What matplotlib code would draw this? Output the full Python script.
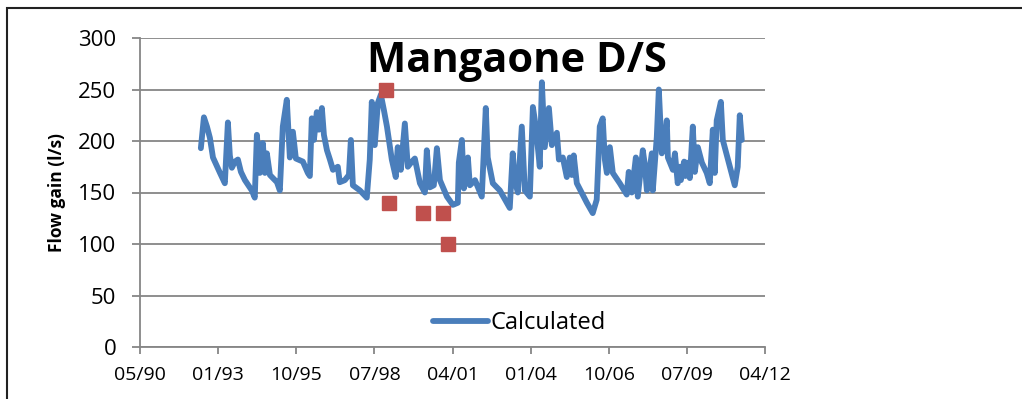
import datetime as dt
import matplotlib
matplotlib.use("Agg")
import matplotlib.pyplot as plt
import matplotlib.dates as mdates
from matplotlib.patches import Rectangle

# calculated flow gain (l/s)
calc_dates = [
    "1992-06-24", "1992-08-02", "1992-09-10", "1992-10-18", "1992-11-26",
    "1993-02-24", "1993-04-27", "1993-05-22", "1993-06-05", "1993-06-30",
    "1993-07-26", "1993-09-03", "1993-10-11", "1993-11-19", "1994-01-09",
    "1994-04-07", "1994-05-15", "1994-06-11", "1994-07-19", "1994-08-26",
    "1994-09-22", "1994-10-17", "1994-11-25", "1995-02-23", "1995-04-01",
    "1995-05-09", "1995-06-29", "1995-08-07", "1995-09-15", "1995-10-23",
    "1996-01-21", "1996-03-24", "1996-04-19", "1996-05-14", "1996-06-10",
    "1996-07-17", "1996-08-13", "1996-09-20", "1996-10-16", "1996-11-24",
    "1997-01-01", "1997-02-09", "1997-04-12", "1997-05-07", "1997-07-11",
    "1997-09-01", "1997-09-26", "1997-10-22", "1998-01-20", "1998-04-18",
    "1998-05-26", "1998-06-21", "1998-07-29", "1998-09-07", "1998-10-15",
    "1998-11-23", "1999-01-01", "1999-03-04", "1999-04-24", "1999-05-19",
    "1999-06-27", "1999-08-18", "1999-09-25", "1999-11-16", "1999-12-24",
    "2000-02-27", "2000-04-30", "2000-05-25", "2000-07-03", "2000-08-23",
    "2000-10-01", "2000-11-09", "2001-02-07", "2001-04-23", "2001-06-26",
    "2001-07-09", "2001-08-17", "2001-09-12", "2001-11-02", "2001-11-27",
    "2002-02-01", "2002-04-29", "2002-06-19", "2002-07-14", "2002-09-17",
    "2002-12-16", "2003-04-22", "2003-05-30", "2003-06-25", "2003-08-03",
    "2003-09-23", "2003-11-01", "2004-01-04", "2004-02-12", "2004-03-20",
    "2004-05-10", "2004-06-06", "2004-07-13", "2004-09-04", "2004-10-12",
    "2004-12-15", "2005-01-10", "2005-03-01", "2005-04-21", "2005-05-29",
    "2005-06-24", "2005-07-19", "2005-08-27", "2006-01-03", "2006-03-19",
    "2006-05-09", "2006-06-17", "2006-07-25", "2006-08-21", "2006-09-16",
    "2006-10-24", "2006-12-01", "2007-02-28", "2007-05-28", "2007-06-23",
    "2007-08-01", "2007-09-22", "2007-10-17", "2007-12-20", "2008-01-15",
    "2008-02-10", "2008-04-13", "2008-04-26", "2008-06-16", "2008-07-12",
    "2008-08-19", "2008-09-27", "2008-10-22", "2008-11-05", "2009-01-08",
    "2009-02-03", "2009-03-11", "2009-04-05", "2009-04-20", "2009-05-02",
    "2009-06-01", "2009-06-15", "2009-07-05", "2009-08-13",
    "2009-09-20", "2009-10-16", "2009-11-23", "2010-01-14", "2010-03-17",
    "2010-04-25", "2010-06-03", "2010-06-28", "2010-07-23", "2010-09-14",
    "2010-10-09", "2011-01-08", "2011-03-11", "2011-04-18", "2011-05-14",
    "2011-06-09",
]
calc_flow = [
    193, 223, 214, 203, 184,
    169, 159, 196, 218, 186,
    174, 180, 182, 170, 162,
    152, 145, 206, 169, 198,
    169, 188, 167, 160, 152,
    214, 240, 184, 209, 183,
    180, 169, 166, 222, 201,
    228, 211, 232, 206, 191,
    182, 172, 175, 160, 162,
    167, 201, 157, 152, 145,
    182, 238, 196, 237, 245,
    230, 214, 182, 165, 194,
    172, 217, 175, 180, 183,
    159, 150, 191, 155, 157,
    193, 162, 146, 138, 140,
    179, 201, 154, 184, 157,
    162, 146, 232, 184, 159,
    152, 135, 188, 162, 150,
    214, 152, 146, 233, 214,
    175, 257, 194, 232, 196,
    208, 182, 184, 165, 184,
    167, 186, 159, 140, 130,
    143, 214, 222, 182, 169,
    194, 169, 159, 148, 170,
    150, 184, 146, 191, 177,
    152, 188, 152, 204, 250,
    188, 201, 220, 184, 172,
    188, 159, 175, 162, 170,
    180, 166, 179, 164,
    214, 170, 194, 179, 169,
    159, 211, 169, 220, 238,
    201, 175, 157, 175, 225,
    201,
]

# observed gaugings
obs_dates = ["1998-12-18", "1999-01-26", "2000-04-04", "2000-12-17", "2001-02-20"]
obs_flow = [250, 140, 130, 130, 100]

x_ticks = list(range(33000, 41001, 1000))  # spreadsheet day serials


def serial_to_date(n):
    return dt.datetime(1899, 12, 30) + dt.timedelta(days=n)


def parse(ds):
    return [dt.datetime.strptime(d, "%Y-%m-%d") for d in ds]


plt.rcParams["font.family"] = ["Open Sans", "DejaVu Sans"]

fig = plt.figure(figsize=(10.22, 3.99), dpi=100)
ax = fig.add_axes([140 / 1022, 52 / 399, 625 / 1022, 309 / 399])

ax.plot(parse(calc_dates), calc_flow, color="#4A7EBB", lw=4.2,
        solid_joinstyle="round", solid_capstyle="round", label="Calculated", zorder=3)
ax.plot(parse(obs_dates), obs_flow, ls="none", marker="s", ms=10.5,
        color="#C0504D", mec="#C0504D", zorder=4)

ax.set_xlim(serial_to_date(x_ticks[0]), serial_to_date(x_ticks[-1]))
ax.set_ylim(0, 300)
ax.set_xticks([serial_to_date(n) for n in x_ticks])
ax.xaxis.set_major_formatter(mdates.DateFormatter("%m/%y"))
ax.set_yticks(range(0, 301, 50))

ax.grid(axis="y", color="#868686", lw=1.3)
ax.set_axisbelow(True)
for s in ["top", "right"]:
    ax.spines[s].set_visible(False)
for s in ["left", "bottom"]:
    ax.spines[s].set_color("#868686")
    ax.spines[s].set_linewidth(1.3)
ax.tick_params(axis="x", direction="out", length=5, width=1.3, color="#868686",
               labelsize=14, pad=9)
ax.tick_params(axis="y", direction="out", length=6, width=1.3, color="#868686",
               labelsize=16, pad=11)

ax.set_ylabel("Flow gain (l/s)", fontsize=12.5, fontweight="bold", labelpad=9)

ax.legend(loc="center", bbox_to_anchor=(0.607, 0.078), frameon=False,
          fontsize=17, handlelength=2.3, handletextpad=0.1)

fig.text(517 / 1022, 1 - 62 / 399, "Mangaone D/S", fontsize=30, fontweight="bold",
         ha="center", va="center")

# outer chart border
fig.patches.append(Rectangle((7 / 1022, -0.1), 1.2, 0.1 + 391 / 399, fill=False,
                             ec="#222222", lw=1.5, transform=fig.transFigure))

fig.savefig("out.png", dpi=100)
